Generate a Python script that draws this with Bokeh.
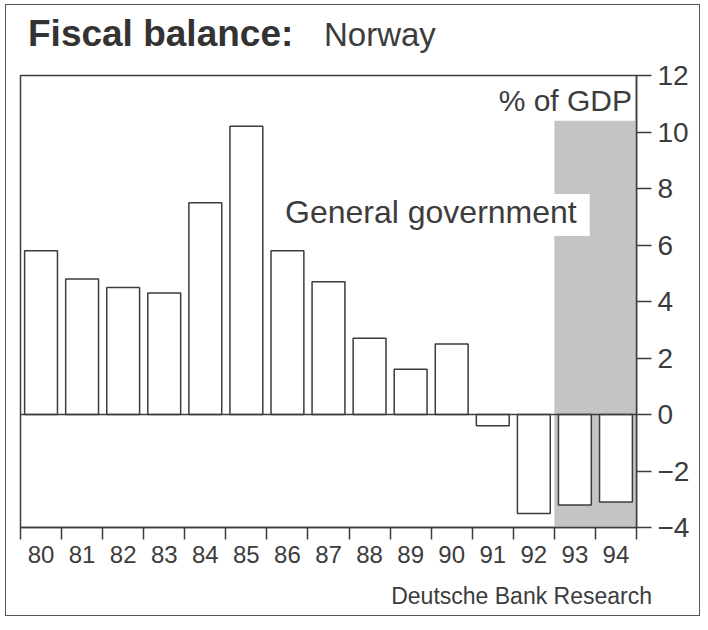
from bokeh.plotting import figure
from bokeh.layouts import column
from bokeh.models import (FixedTicker, BoxAnnotation, Label, Span, ColumnDataSource,
                          Range1d, Title)
from bokeh.embed import file_html
from bokeh.resources import INLINE

# ---- data ----
years = ["80", "81", "82", "83", "84", "85", "86", "87", "88", "89",
         "90", "91", "92", "93", "94"]
balance = [5.8, 4.8, 4.5, 4.3, 7.5, 10.2, 5.8, 4.7, 2.7, 1.6,
           2.5, -0.4, -3.5, -3.2, -3.1]
y_ticks = [-4, -2, 0, 2, 4, 6, 8, 10, 12]
forecast_years = ["93", "94"]
shade_top = 10.4
title_main = "Fiscal balance:"
title_sub = "Norway"
unit_label = "% of GDP"
series_label = "General government"
source_label = "Deutsche Bank Research"

# ---- layout (global page pixels) ----
INK = "#3c3c3c"
FONT = "Liberation Sans"
OX, OY = 6.5, 5.5            # content origin inside the outer border
CW = 693                     # content width
TOP_H, MAIN_H = 50, 560
FL, FR, FT, FB = 20.5, 636.5, 75.5, 527.5   # plot frame, global px
x0, x1 = -0.5, len(years) - 0.5
y0, y1 = y_ticks[0], y_ticks[-1]
BL = 0.34                    # label anchor sits this many em above the baseline
MBL = int(FL - OX)
MBR = int(OX + CW - FR)


def sx(px):
    return x0 + (px - FL) * (x1 - x0) / (FR - FL)


def sy(py):
    return y1 - (py - FT) * (y1 - y0) / (FB - FT)


# ---- title strip ----
top = figure(width=CW, height=TOP_H, x_range=Range1d(FL, FR),
             y_range=Range1d(OY + TOP_H, OY), output_backend="svg",
             toolbar_location=None, x_axis_location=None, y_axis_location=None,
             min_border_left=MBL, min_border_right=MBR,
             min_border_top=0, min_border_bottom=0,
             outline_line_color=None, background_fill_color="white",
             border_fill_color="white")
top.xgrid.visible = False
top.ygrid.visible = False
top.add_layout(Label(x=28, y=46 - BL * 37, text=title_main, text_font=FONT,
                     text_font_style="bold", text_font_size="37px",
                     text_color="#333333", text_baseline="alphabetic"))
top.add_layout(Label(x=324, y=46 - BL * 33, text=title_sub, text_font=FONT,
                     text_font_size="33px", text_color=INK,
                     text_baseline="alphabetic"))

# ---- main chart ----
main_top = OY + TOP_H
xs = list(range(len(years)))
src = ColumnDataSource(dict(x=xs, top=balance, year=years))

p = figure(width=CW, height=MAIN_H, x_range=(x0, x1), y_range=(y0, y1),
           output_backend="svg", toolbar_location=None,
           y_axis_location="right",
           min_border_left=MBL, min_border_right=MBR,
           min_border_top=int(FT - main_top),
           min_border_bottom=int(main_top + MAIN_H - FB),
           background_fill_color="white", border_fill_color="white",
           outline_line_color=INK, outline_line_width=1.5)
p.xgrid.visible = False
p.ygrid.visible = False

fi = years.index(forecast_years[0])
p.add_layout(BoxAnnotation(left=fi - 0.5, right=x1, bottom=y0, top=shade_top,
                           fill_color="#c4c4c4", fill_alpha=1.0,
                           line_color=None, level="underlay"))

p.vbar(x="x", width=0.8, bottom=0, top="top", source=src,
       fill_color="white", line_color=INK, line_width=1.5)
p.add_layout(Span(location=0, dimension="width", line_color=INK, line_width=1.5))

xa = p.xaxis[0]
xa.ticker = FixedTicker(ticks=xs, minor_ticks=[i - 0.5 for i in range(len(years) + 1)])
xa.major_label_overrides = {i: y for i, y in enumerate(years)}
xa.major_tick_out = 0
xa.major_tick_in = 0
xa.minor_tick_out = 12
xa.minor_tick_in = 0
xa.minor_tick_line_color = INK
xa.minor_tick_line_width = 1.5
xa.axis_line_color = INK
xa.axis_line_width = 1.5
xa.major_label_standoff = 6
xa.major_label_text_font = FONT
xa.major_label_text_font_size = "24px"
xa.major_label_text_color = INK
# invisible spacer label so that the source line sits lower
xa.axis_label = " "
xa.axis_label_standoff = 0
xa.axis_label_text_font_size = "7px"

ya = p.yaxis[0]
ya.ticker = FixedTicker(ticks=y_ticks)
ya.major_tick_out = 15
ya.major_tick_in = 0
ya.minor_tick_out = 0
ya.minor_tick_in = 0
ya.major_tick_line_color = INK
ya.major_tick_line_width = 1.5
ya.axis_line_color = INK
ya.axis_line_width = 1.5
ya.major_label_standoff = 6
ya.major_label_text_font = FONT
ya.major_label_text_font_size = "28px"
ya.major_label_text_color = INK

p.add_layout(Label(x=sx(632), y=sy(111 - BL * 30), text=unit_label, text_font=FONT,
                   text_font_size="30px", text_color=INK,
                   text_align="right", text_baseline="alphabetic"))
p.add_layout(Label(x=sx(285), y=sy(226 - BL * 32), text=series_label, text_font=FONT,
                   text_font_size="32px", text_color=INK,
                   text_baseline="alphabetic", padding=(0, 13, 0, 6),
                   background_fill_color="white", background_fill_alpha=1.0))

# source line under the axis
p.add_layout(Title(text=source_label, align="right", offset=FR - 652,
                   standoff=10, text_font=FONT, text_font_size="23px",
                   text_font_style="normal", text_color=INK), "below")

page = column(top, p, spacing=0, margin=(4, 0, 0, 5),
              styles={"border": "1.5px solid #555555", "background": "white"})

open("out.html", "w").write(file_html(page, INLINE))
